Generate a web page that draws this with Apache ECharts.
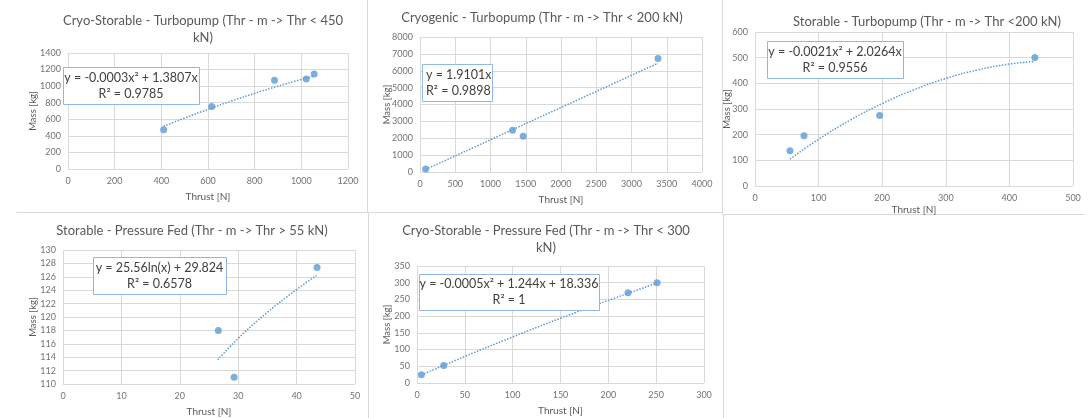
<!DOCTYPE html>
<html>
<head>
<meta charset="utf-8">
<script src="https://cdn.jsdelivr.net/npm/echarts@6/dist/echarts.min.js"></script>
<style>html,body{margin:0;padding:0;background:#fff}#c{width:1089px;height:418px}</style>
</head>
<body>
<div id="c"></div>
<script>
// ---- Data ----
const titles = [
  "Cryo-Storable - Turbopump (Thr - m -> Thr < 450\nkN)",
  "Cryogenic - Turbopump (Thr - m -> Thr < 200 kN)",
  "Storable - Turbopump (Thr - m -> Thr <200 kN)",
  "Storable - Pressure Fed (Thr - m -> Thr > 55 kN)",
  "Cryo-Storable - Pressure Fed (Thr - m -> Thr < 300\nkN)"
];
const equations = [
  "y = -0.0003x² + 1.3807x\nR² = 0.9785",
  "y = 1.9101x\nR² = 0.9898",
  "y = -0.0021x² + 2.0264x\nR² = 0.9556",
  "y = 25.56ln(x) + 29.824\nR² = 0.6578",
  "y = -0.0005x² + 1.244x + 18.336\nR² = 1"
];
const xName = "Thrust [N]";
const yName = "Mass [kg]";

// points [thrust, mass]
const pts1 = [[410, 475], [616, 755], [885, 1070], [1021, 1086], [1055, 1146]];
const pts2 = [[80, 180], [1313, 2467], [1464, 2112], [3376, 6728]];
const pts3 = [[55, 137], [77, 196], [196, 275], [440, 501]];
const pts4 = [[26.6, 118.0], [29.3, 111.0], [43.5, 127.4]];
const pts5 = [[4.6, 25], [27.9, 52], [220.6, 270], [251, 300]];

// trendline readings [thrust, mass]
const trend1 = [[410, 516], [500, 615], [600, 720], [700, 820], [800, 913], [900, 1000], [1000, 1081], [1055, 1123]];
const trend2 = [[80, 153], [3376, 6448]];
const trend3 = [[55, 105], [100, 182], [150, 257], [200, 321], [250, 375], [300, 419], [350, 452], [400, 475], [440, 485]];
const trend4 = [[26.5, 113.6], [30, 116.8], [35, 120.7], [40, 124.1], [43.4, 126.2]];
const trend5 = [[4.6, 24.1], [50, 79.3], [100, 137.7], [150, 193.7], [200, 247.1], [251, 299.1]];

// axis ranges [min, max, interval]
const xRanges = [[0, 1200, 200], [0, 4000, 500], [0, 500, 100], [0, 50, 10], [0, 300, 50]];
const yRanges = [[0, 1400, 200], [0, 8000, 1000], [0, 600, 100], [110, 130, 2], [0, 350, 50]];

const points = [pts1, pts2, pts3, pts4, pts5];
const trends = [trend1, trend2, trend3, trend4, trend5];

// ---- Layout ----
const FONT = "Lato, 'Liberation Sans', sans-serif";
const BLUE = "#5b9bd5";
const grids = [
  {left: 68, top: 53, width: 280, height: 116},
  {left: 420, top: 37, width: 282, height: 135},
  {left: 755, top: 32, width: 318, height: 154},
  {left: 63, top: 250, width: 292, height: 134},
  {left: 417, top: 266, width: 287, height: 117}
];
const titlePos = [[203, 12], [542, 9], [927, 13], [192, 222], [546, 222]];
const eqBox = [
  {x: 63, y: 67, w: 136, h: 37, align: 'center'},
  {x: 422, y: 64, w: 70, h: 37, align: 'left'},
  {x: 767, y: 41, w: 136, h: 37, align: 'center'},
  {x: 93, y: 257, w: 133, h: 37, align: 'center'},
  {x: 419, y: 274, w: 180, h: 36, align: 'center'}
];
const yNameGap = [30, 28, 23, 25, 25];
const xNameGap = [23, 23, 19, 23, 23];

const xAxes = [], yAxes = [], series = [], graphics = [];
for (let i = 0; i < 5; i++) {
  xAxes.push({
    type: 'value', gridIndex: i, min: xRanges[i][0], max: xRanges[i][1], interval: xRanges[i][2],
    name: xName, nameLocation: 'middle', nameGap: xNameGap[i], nameMoveOverlap: false,
    nameTextStyle: {color: '#595959', fontSize: 10, fontFamily: FONT},
    axisLine: {show: false}, axisTick: {show: false},
    axisLabel: {color: '#737373', fontSize: 9, fontFamily: FONT, margin: 8, formatter: v => String(v)},
    splitLine: {show: true, lineStyle: {color: '#d9d9d9', width: 1}}
  });
  yAxes.push({
    type: 'value', gridIndex: i, min: yRanges[i][0], max: yRanges[i][1], interval: yRanges[i][2],
    name: yName, nameLocation: 'middle', nameGap: yNameGap[i], nameRotate: 90, nameMoveOverlap: false,
    nameTextStyle: {color: '#595959', fontSize: 9.5, fontFamily: FONT},
    axisLine: {show: false}, axisTick: {show: false},
    axisLabel: {color: '#737373', fontSize: 9, fontFamily: FONT, margin: 7, formatter: v => String(v)},
    splitLine: {show: true, lineStyle: {color: '#d9d9d9', width: 1}}
  });
  series.push({
    type: 'line', xAxisIndex: i, yAxisIndex: i, data: trends[i], smooth: true,
    showSymbol: false, symbol: 'none', silent: true, z: 2,
    lineStyle: {color: BLUE, width: 1.5, type: [1.5, 1.5]}
  });
  series.push({
    type: 'scatter', xAxisIndex: i, yAxisIndex: i, data: points[i], symbolSize: 7, z: 3,
    itemStyle: {color: BLUE}
  });
  // title
  graphics.push({
    type: 'text', x: titlePos[i][0], y: titlePos[i][1], z: 10,
    style: {text: titles[i], fill: '#595959', font: "13px " + FONT, align: 'center', verticalAlign: 'top', lineHeight: 17}
  });
  // equation box
  const b = eqBox[i];
  graphics.push({
    type: 'rect', shape: {x: b.x + 0.5, y: b.y + 0.5, width: b.w, height: b.h}, z: 10,
    style: {fill: '#fff', stroke: '#8fb9e3', lineWidth: 1}
  });
  graphics.push({
    type: 'text', z: 11,
    x: b.align === 'center' ? b.x + b.w / 2 : b.x + 4,
    y: b.y + b.h / 2,
    style: {text: equations[i], fill: '#404040', font: "12.5px " + FONT, align: b.align, verticalAlign: 'middle', lineHeight: 16}
  });
}
// panel separators
const sep = [
  [367, 0, 367, 212], [722, 0, 722, 214], [16, 212.5, 722, 212.5],
  [368, 213, 368, 418], [723, 214, 723, 418], [722, 214.5, 1084, 214.5]
];
sep.forEach(s => graphics.push({
  type: 'line', shape: {x1: s[0] + 0.5, y1: s[1], x2: s[2] + 0.5, y2: s[3]}, z: 0,
  style: {stroke: '#d9d9d9', lineWidth: 1}
}));

const chart = echarts.init(document.getElementById('c'), null, {renderer: 'canvas'});
chart.setOption({
  animation: false,
  backgroundColor: '#fff',
  grid: grids.map(g => Object.assign({containLabel: false}, g)),
  xAxis: xAxes,
  yAxis: yAxes,
  series: series,
  graphic: graphics
});
</script>
</body>
</html>
